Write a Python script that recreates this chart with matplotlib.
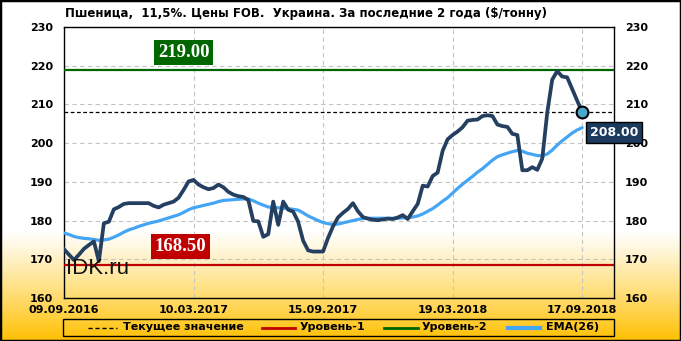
import numpy as np
import matplotlib
matplotlib.use("Agg")
import matplotlib.pyplot as plt
from matplotlib.lines import Line2D
from matplotlib.colors import to_rgb

# ---------------- data ----------------
x_labels = ["09.09.2016", "10.03.2017", "15.09.2017", "19.03.2018", "17.09.2018"]
x_label_pos = [0, 26, 52, 78, 104]

price = [172.6, 171.2, 169.8, 171.2, 172.7, 173.7, 174.6, 169.5, 179.3, 179.7,
         182.9, 183.5, 184.3, 184.5, 184.5, 184.5, 184.5, 184.5, 183.8, 183.4,
         184.1, 184.5, 184.9, 185.9, 187.9, 190.1, 190.5, 189.3, 188.6, 188.1,
         188.4, 189.3, 188.6, 187.4, 186.7, 186.3, 186.1, 185.3, 179.9, 179.8,
         175.8, 176.5, 184.9, 178.9, 184.9, 182.8, 182.3, 179.7, 174.8, 172.3,
         172.0, 172.0, 172.0, 175.5, 178.5, 180.8, 182.0, 183.0, 184.5, 182.4,
         180.9, 180.5, 180.2, 180.1, 180.3, 180.5, 180.4, 180.8, 181.4, 180.4,
         182.4, 184.3, 189.0, 188.8, 191.5, 192.4, 198.0, 201.0, 202.1, 203.0,
         204.1, 205.8, 206.0, 206.1, 207.0, 207.2, 207.0, 204.8, 204.4, 204.2,
         202.4, 202.1, 193.0, 193.0, 193.8, 193.1, 196.0, 207.9, 216.4, 218.6,
         217.2, 217.0, 214.0, 211.0, 208.0]

ema = [176.8, 176.4, 175.9, 175.6, 175.4, 175.3, 175.1, 174.9, 175.0, 175.2,
       175.7, 176.3, 177.0, 177.6, 178.0, 178.5, 178.9, 179.3, 179.6, 179.9,
       180.3, 180.7, 181.1, 181.5, 182.1, 182.8, 183.3, 183.6, 183.9, 184.2,
       184.5, 184.9, 185.2, 185.3, 185.4, 185.5, 185.6, 185.6, 185.1, 184.5,
       184.0, 183.5, 183.4, 183.3, 183.2, 183.1, 182.9, 182.7, 182.0, 181.2,
       180.6, 180.0, 179.5, 179.2, 179.0, 179.1, 179.4, 179.7, 180.0, 180.3,
       180.5, 180.6, 180.6, 180.6, 180.6, 180.6, 180.6, 180.6, 180.7, 180.8,
       180.9, 181.2, 181.7, 182.4, 183.1, 184.0, 185.0, 185.9, 187.1, 188.3,
       189.4, 190.4, 191.4, 192.5, 193.4, 194.5, 195.6, 196.5, 197.0, 197.4,
       197.8, 198.1, 197.9, 197.4, 197.1, 196.8, 196.7, 197.2, 198.2, 199.5,
       200.6, 201.6, 202.6, 203.4, 204.0]

level1 = 168.5
level2 = 219.0
current = 208.0

title = "Пшеница,  11,5%. Цены FOB.  Украина. За последние 2 года ($/тонну)"
legend_labels = ["Текущее значение", "Уровень-1", "Уровень-2", "EMA(26)"]

# ---------------- figure ----------------
W, H = 681, 341
fig = plt.figure(figsize=(W / 100, H / 100), dpi=100)

navy = "#243F60"
blue = "#45A5F5"
green = "#006600"
red = "#C00000"

# background gradient
bg = fig.add_axes([0, 0, 1, 1], zorder=-10)
rows = np.arange(H)
t = np.clip((rows - 230) / (H - 230), 0, 1) ** 1.1
top_c = np.array(to_rgb("#FFFFFF"))
bot_c = np.array(to_rgb("#FFC000"))
grad = top_c[None, :] * (1 - t[:, None]) + bot_c[None, :] * t[:, None]
bg.imshow(grad[:, None, :], aspect="auto", extent=[0, 1, 0, 1], origin="upper")
bg.set_xlim(0, 1)
bg.set_ylim(0, 1)
bg.axis("off")
bg.add_patch(plt.Rectangle((0, 0), 1, 1, transform=bg.transAxes, fill=False,
                           edgecolor="black", linewidth=2.5))

ax = fig.add_axes([64 / W, 1 - 298 / H, 550 / W, 271 / H])
ax.set_facecolor("none")

x = np.arange(len(price))

ax.axhline(level2, color=green, lw=1.6, zorder=3)
ax.axhline(level1, color=red, lw=1.6, zorder=3)
ax.axhline(current, color="black", lw=0.9, ls=(0, (3, 2)), zorder=3)
ax.plot(x, ema, color=blue, lw=2.3, zorder=4, solid_capstyle="round")
ax.plot(x, price, color=navy, lw=2.7, zorder=5, solid_joinstyle="round")
ax.plot([x[-1]], [price[-1]], marker="o", ms=8.5, mfc="#4BA8CC", mec="black",
        mew=1.5, zorder=6)

ax.set_xlim(0, 110.4)
ax.set_ylim(160, 230)
ax.set_yticks(np.arange(160, 231, 10))
ax.set_xticks(x_label_pos)
ax.set_xticklabels(x_labels)
ax.grid(True, color="#C4C4C4", ls=(0, (4, 3)), lw=0.8)
ax.set_axisbelow(True)
ax.tick_params(axis="both", length=0, labelsize=8)
ax.tick_params(axis="y", left=False, right=False, labelleft=True, labelright=True,
               pad=8)
ax.tick_params(axis="x", pad=5)
for lab in ax.get_yticklabels() + ax.get_xticklabels():
    lab.set_fontweight("bold")
for tk in ax.yaxis.get_major_ticks():
    tk.label2.set_fontweight("bold")
    tk.label2.set_fontsize(8)
for sp in ax.spines.values():
    sp.set_color("black")
    sp.set_linewidth(1.0)

# value boxes
ax.text(24, level2 + 4.4, "%.2f" % level2, fontsize=13.5, fontweight="bold",
        family="Liberation Serif", color="white", ha="center", va="center", zorder=7,
        bbox=dict(boxstyle="square,pad=0.2", fc=green, ec="none"))
ax.text(23.3, level1 + 4.8, "%.2f" % level1, fontsize=13.5, fontweight="bold",
        family="Liberation Serif", color="white", ha="center", va="center", zorder=7,
        bbox=dict(boxstyle="square,pad=0.2", fc=red, ec="none"))
ax.text(110.4, current - 5.2, "%.2f" % current, fontsize=9, fontweight="bold",
        color="white", ha="center", va="center", zorder=8, clip_on=False,
        bbox=dict(boxstyle="square,pad=0.3", fc="#1B3A5E", ec="black", lw=1))

# watermark
fig.text(66 / W, 1 - 258 / H, "IDK.ru", fontsize=16, family="Liberation Sans",
         color="#111111", ha="left", va="top", zorder=10)

# title
fig.text(65 / W, 1 - 13 / H, title, fontsize=8.5, fontweight="bold",
         ha="left", va="center")

# legend (manual layout)
lg = fig.add_axes([0, 0, 1, 1], zorder=5)
lg.set_xlim(0, W)
lg.set_ylim(H, 0)
lg.axis("off")
lg.add_patch(plt.Rectangle((63, 319), 551, 17, fill=False, edgecolor="black",
                           linewidth=1.0))
ly = 327.5
styles = [dict(color="black", lw=1, ls=(0, (3, 2))),
          dict(color=red, lw=2),
          dict(color=green, lw=2),
          dict(color=blue, lw=3)]
line_x = [(88, 117), (262, 295), (384, 418), (508, 540)]
text_x = [123, 300, 422, 546]
for st, (x0, x1), tx, lab in zip(styles, line_x, text_x, legend_labels):
    lg.plot([x0, x1], [ly, ly], **st)
    lg.text(tx, ly, lab, fontsize=8, fontweight="bold", ha="left", va="center")

fig.savefig("out.png", dpi=100)
